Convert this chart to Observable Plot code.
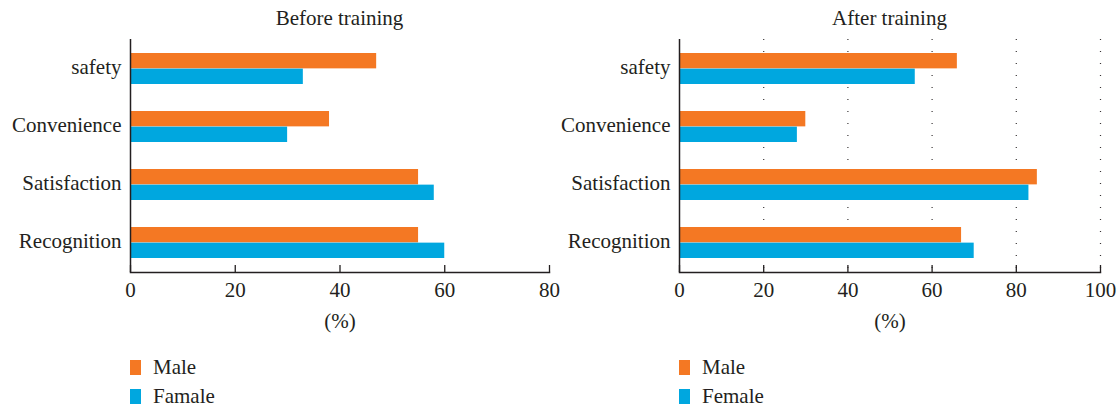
<!DOCTYPE html>
<html><head><meta charset="utf-8">
<script src="https://cdn.jsdelivr.net/npm/d3@7"></script>
<script src="https://cdn.jsdelivr.net/npm/@observablehq/plot@0.6"></script>
<style>
body{margin:0;background:#fff;font-family:"Liberation Serif","DejaVu Serif","Times New Roman",Times,serif;color:#231f20;}
#wrap{position:relative;width:1117px;height:407px;overflow:hidden;}
.abs{position:absolute;}
.title{font-size:21px;height:36px;line-height:36px;text-align:center;top:0;}
</style></head><body><div id="wrap"></div>
<script>
const categories = ["safety", "Convenience", "Satisfaction", "Recognition"];
const beforeMale = [47, 38, 55, 55];
const beforeFemale = [33, 30, 58, 60];
const afterMale = [66, 30, 85, 67];
const afterFemale = [56, 28, 83, 70];
const beforeLegend = ["Male", "Famale"];
const afterLegend = ["Male", "Female"];
const beforeTicks = [0, 20, 40, 60, 80];
const afterTicks = [0, 20, 40, 60, 80, 100];
const afterGrid = [20, 40, 60, 80, 100];
const colors = ["#f47823", "#00a7df"];
const ink = "#231f20";
const font = '"Liberation Serif","DejaVu Serif","Times New Roman",Times,serif';

const wrap = document.getElementById("wrap");

function panel({title, male, female, legend, ticks, xMax, grid, left, width, marginLeft, marginRight}) {
  const rows = categories.flatMap((c, i) => [
    {category: c, sex: legend[0], value: male[i]},
    {category: c, sex: legend[1], value: female[i]}
  ]);
  const marginTop = 10, marginBottom = 70, height = 313;
  const pi = 0.47, po = 0.21;
  const plotH = height - marginTop - marginBottom;
  const step = plotH / (categories.length - pi + 2 * po);
  const bw = step * (1 - pi);
  const marks = [];
  if (grid) marks.push(Plot.gridX(grid, {stroke: ink, strokeOpacity: 0.9, strokeWidth: 1.2, strokeDasharray: "1,11"}));
  marks.push(
    Plot.barX(rows.filter(d => d.sex === legend[0]), {y: "category", x: "value", fill: "sex", insetBottom: bw / 2}),
    Plot.barX(rows.filter(d => d.sex === legend[1]), {y: "category", x: "value", fill: "sex", insetTop: bw / 2}),
    Plot.ruleX([0], {stroke: ink, strokeWidth: 1.5}),
    Plot.frame({anchor: "bottom", stroke: ink, strokeWidth: 1.5}),
    Plot.axisY({tickSize: 0, tickPadding: 9, fontSize: 21, label: null, dy: -2}),
    Plot.axisX({ticks, tickSize: -7, tickPadding: 17, fontSize: 21, stroke: ink, strokeWidth: 1.3,
      label: "(%)", labelAnchor: "center", labelOffset: 55, labelArrow: "none"})
  );
  const chart = Plot.plot({
    width, height, marginTop, marginBottom, marginLeft, marginRight,
    style: {overflow: "visible", background: "transparent", fontFamily: font, fontSize: "21px", color: ink},
    x: {domain: [0, xMax]},
    y: {domain: categories, paddingInner: pi, paddingOuter: po},
    color: {domain: legend, range: colors},
    marks
  });
  chart.style.position = "absolute";
  chart.style.left = left + "px";
  chart.style.top = "29px";
  wrap.appendChild(chart);

  const t = document.createElement("div");
  t.className = "abs title";
  t.style.left = (left + marginLeft) + "px";
  t.style.width = (width - marginLeft - marginRight) + "px";
  t.textContent = title;
  wrap.appendChild(t);

  const lg = Plot.legend({
    color: {domain: legend, range: colors},
    columns: 1, swatchWidth: 11, swatchHeight: 15,
    style: {fontFamily: font, fontSize: "21px", color: ink, background: "transparent", margin: "0"}
  });
  lg.style.position = "absolute";
  lg.style.left = (left + marginLeft) + "px";
  lg.style.top = "353px";
  lg.style.width = "200px";
  lg.querySelectorAll("svg").forEach(s => {
    s.style.marginRight = "12px";
    const item = s.parentElement;
    item.style.height = "29px";
    item.style.paddingBottom = "0";
    item.style.margin = "0";
  });
  wrap.appendChild(lg);
}

panel({title: "Before training", male: beforeMale, female: beforeFemale, legend: beforeLegend,
  ticks: beforeTicks, xMax: 80, grid: null, left: 0, width: 558, marginLeft: 130, marginRight: 9});
panel({title: "After training", male: afterMale, female: afterFemale, legend: afterLegend,
  ticks: afterTicks, xMax: 100, grid: afterGrid, left: 558, width: 559, marginLeft: 121, marginRight: 17});
</script>
</body></html>
